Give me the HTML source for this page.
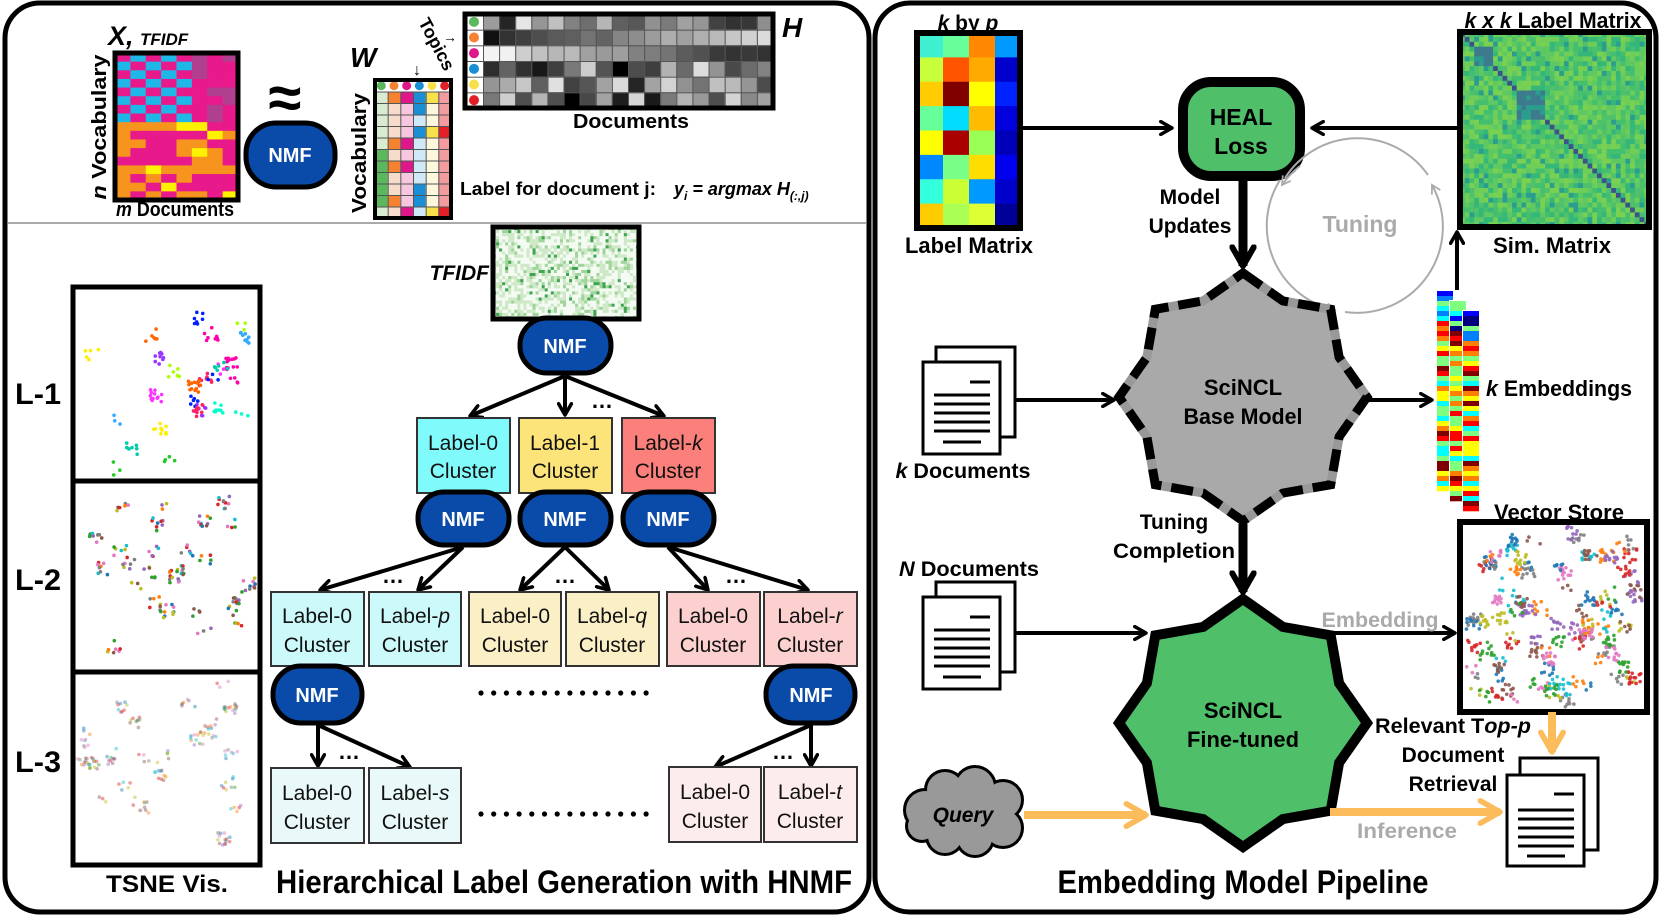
<!DOCTYPE html>
<html><head><meta charset="utf-8">
<style>
html,body{margin:0;padding:0;background:#fff;}
svg{display:block;}
text{font-family:"Liberation Sans",sans-serif;}
.b{font-weight:bold;}
.i{font-style:italic;}
.lab{font-size:21px;fill:#111;}
.nmf{font-size:20px;font-weight:bold;fill:#fff;}
</style></head>
<body>
<svg id="s" xmlns="http://www.w3.org/2000/svg" width="1661" height="917" viewBox="0 0 1661 917">
<defs>
<marker id="ak" viewBox="0 0 10 10" refX="8" refY="5" markerWidth="4" markerHeight="4" orient="auto" markerUnits="strokeWidth"><path d="M1,1 L8,5 L1,9" fill="none" stroke="#000" stroke-width="2.2" stroke-linecap="round" stroke-linejoin="round"/></marker>
<marker id="ak2" viewBox="0 0 10 10" refX="8" refY="5" markerWidth="3" markerHeight="3" orient="auto" markerUnits="strokeWidth"><path d="M1,1 L8,5 L1,9" fill="none" stroke="#000" stroke-width="2.2" stroke-linecap="round" stroke-linejoin="round"/></marker>
<marker id="ag" viewBox="0 0 10 10" refX="8" refY="5" markerWidth="6" markerHeight="6" orient="auto" markerUnits="strokeWidth"><path d="M1,1 L8,5 L1,9" fill="none" stroke="#aaa" stroke-width="1.5"/></marker>
<marker id="ao" viewBox="0 0 10 10" refX="8" refY="5" markerWidth="3.5" markerHeight="3.5" orient="auto" markerUnits="strokeWidth"><path d="M1,1 L8,5 L1,9" fill="none" stroke="#fcbc5c" stroke-width="2" stroke-linecap="round" stroke-linejoin="round"/></marker>
</defs>

<!-- panels -->
<rect x="5" y="3" width="864" height="909" rx="35" fill="#fff" stroke="#000" stroke-width="5"/>
<rect x="875" y="3" width="781" height="909" rx="35" fill="#fff" stroke="#000" stroke-width="5"/>
<line x1="8" y1="223" x2="866" y2="223" stroke="#aaa" stroke-width="2"/>

<!-- X matrix -->
<g id="Xm"><rect x="115" y="53" width="123" height="147" fill="#e8198b"/></g>
<rect x="115" y="53" width="123" height="147" fill="none" stroke="#000" stroke-width="5"/>
<text x="108" y="45" class="b i" font-size="27">X,</text>
<text x="140" y="45" class="b i" font-size="17">TFIDF</text>
<text transform="translate(106,127) rotate(-90)" text-anchor="middle" class="b" font-size="20" textLength="145" lengthAdjust="spacingAndGlyphs"><tspan class="i">n</tspan> Vocabulary</text>
<text x="175" y="216" text-anchor="middle" class="b" font-size="20" textLength="118" lengthAdjust="spacingAndGlyphs"><tspan class="i">m</tspan> Documents</text>
<text x="285" y="118" text-anchor="middle" class="b" font-size="60">≈</text>
<rect x="246" y="123" width="89" height="64" rx="30" fill="#0a4aa8" stroke="#000" stroke-width="5"/>
<text x="290" y="162" text-anchor="middle" class="nmf">NMF</text>

<!-- W matrix -->
<g id="Wm"><rect x="375" y="80" width="76" height="138" fill="#eee"/></g>
<rect x="375" y="80" width="76" height="138" fill="none" stroke="#000" stroke-width="4"/>
<text x="350" y="67" class="b i" font-size="28">W</text>
<text transform="translate(366,153) rotate(-90)" text-anchor="middle" class="b" font-size="20" textLength="120" lengthAdjust="spacingAndGlyphs">Vocabulary</text>
<text transform="translate(418,22) rotate(62)" class="b" font-size="18">Topics</text>
<text x="417" y="75" text-anchor="middle" font-size="16">↓</text>
<text x="450" y="42" text-anchor="middle" font-size="14">→</text>

<!-- H matrix -->
<g id="Hm"><rect x="465" y="14" width="308" height="94" fill="#666"/></g>
<rect x="465" y="14" width="308" height="94" fill="none" stroke="#000" stroke-width="5"/>
<text x="782" y="37" class="b i" font-size="28">H</text>
<text x="631" y="128" text-anchor="middle" class="b" font-size="20" textLength="116" lengthAdjust="spacingAndGlyphs">Documents</text>
<text x="460" y="195" class="b" font-size="18" textLength="196" lengthAdjust="spacingAndGlyphs">Label for document j:</text>
<text x="674" y="195" class="b i" font-size="18">y<tspan font-size="12" dy="5">i</tspan><tspan dy="-5"> = argmax H</tspan><tspan font-size="12" dy="5">(:,j)</tspan></text>

<!-- TSNE -->
<g id="ts"></g>
<rect x="73" y="287" width="187" height="194" fill="none" stroke="#000" stroke-width="5"/>
<rect x="73" y="481" width="187" height="191" fill="none" stroke="#000" stroke-width="5"/>
<rect x="73" y="672" width="187" height="193" fill="none" stroke="#000" stroke-width="5"/>
<text x="15" y="404" class="b" font-size="30" textLength="46" lengthAdjust="spacingAndGlyphs">L-1</text>
<text x="15" y="590" class="b" font-size="30" textLength="46" lengthAdjust="spacingAndGlyphs">L-2</text>
<text x="15" y="772" class="b" font-size="30" textLength="46" lengthAdjust="spacingAndGlyphs">L-3</text>
<text x="167" y="892" text-anchor="middle" class="b" font-size="24" textLength="122" lengthAdjust="spacingAndGlyphs">TSNE Vis.</text>

<!-- TFIDF tree -->
<g id="tf"><rect x="493" y="227" width="146" height="92" fill="#d8efd4"/></g>
<rect x="493" y="227" width="146" height="92" fill="none" stroke="#000" stroke-width="5"/>
<text x="489" y="280" text-anchor="end" class="b i" font-size="21">TFIDF</text>
<rect x="520" y="318" width="91" height="55" rx="27" fill="#0a4aa8" stroke="#000" stroke-width="5"/>
<text x="565" y="353" text-anchor="middle" class="nmf">NMF</text>
<g stroke="#000" stroke-width="4" fill="none">
<line x1="565" y1="376" x2="470" y2="416" marker-end="url(#ak)"/>
<line x1="565" y1="376" x2="565" y2="415" marker-end="url(#ak)"/>
<line x1="565" y1="376" x2="664" y2="416" marker-end="url(#ak)"/>
</g>
<text x="602" y="408" text-anchor="middle" class="b" font-size="22">…</text>

<g stroke="#333" stroke-width="2">
<rect x="417" y="418" width="93" height="75" fill="#80fafa"/>
<rect x="519" y="418" width="93" height="75" fill="#fde47a"/>
<rect x="622" y="418" width="93" height="75" fill="#fb7f7a"/>
</g>
<g class="lab" text-anchor="middle">
<text x="463" y="450" class="lab">Label-0</text><text x="463" y="478" class="lab">Cluster</text>
<text x="565" y="450" class="lab">Label-1</text><text x="565" y="478" class="lab">Cluster</text>
<text x="668" y="450" class="lab">Label-<tspan class="i">k</tspan></text><text x="668" y="478" class="lab">Cluster</text>
</g>
<g stroke="#000" stroke-width="5" fill="#0a4aa8">
<rect x="418" y="492" width="91" height="53" rx="26"/>
<rect x="520" y="492" width="91" height="53" rx="26"/>
<rect x="623" y="492" width="91" height="53" rx="26"/>
</g>
<text x="463" y="526" text-anchor="middle" class="nmf">NMF</text>
<text x="565" y="526" text-anchor="middle" class="nmf">NMF</text>
<text x="668" y="526" text-anchor="middle" class="nmf">NMF</text>

<g stroke="#000" stroke-width="4" fill="none">
<line x1="463" y1="547" x2="320" y2="590" marker-end="url(#ak)"/>
<line x1="463" y1="547" x2="418" y2="590" marker-end="url(#ak)"/>
<line x1="565" y1="547" x2="520" y2="590" marker-end="url(#ak)"/>
<line x1="565" y1="547" x2="609" y2="590" marker-end="url(#ak)"/>
<line x1="668" y1="547" x2="708" y2="590" marker-end="url(#ak)"/>
<line x1="668" y1="547" x2="808" y2="590" marker-end="url(#ak)"/>
</g>
<text x="393" y="583" text-anchor="middle" class="b" font-size="22">…</text>
<text x="565" y="583" text-anchor="middle" class="b" font-size="22">…</text>
<text x="736" y="583" text-anchor="middle" class="b" font-size="22">…</text>

<g stroke="#333" stroke-width="2">
<rect x="271" y="592" width="93" height="74" fill="#ccf9fa"/>
<rect x="369" y="592" width="92" height="74" fill="#ccf9fa"/>
<rect x="469" y="592" width="92" height="74" fill="#fbefc6"/>
<rect x="566" y="592" width="93" height="74" fill="#fbefc6"/>
<rect x="667" y="592" width="93" height="74" fill="#fdd0d0"/>
<rect x="764" y="592" width="93" height="74" fill="#fdd0d0"/>
</g>
<g text-anchor="middle">
<text x="317" y="623" class="lab">Label-0</text><text x="317" y="652" class="lab">Cluster</text>
<text x="415" y="623" class="lab">Label-<tspan class="i">p</tspan></text><text x="415" y="652" class="lab">Cluster</text>
<text x="515" y="623" class="lab">Label-0</text><text x="515" y="652" class="lab">Cluster</text>
<text x="612" y="623" class="lab">Label-<tspan class="i">q</tspan></text><text x="612" y="652" class="lab">Cluster</text>
<text x="713" y="623" class="lab">Label-0</text><text x="713" y="652" class="lab">Cluster</text>
<text x="810" y="623" class="lab">Label-<tspan class="i">r</tspan></text><text x="810" y="652" class="lab">Cluster</text>
</g>
<g stroke="#000" stroke-width="5" fill="#0a4aa8">
<rect x="273" y="666" width="89" height="57" rx="28"/>
<rect x="766" y="666" width="89" height="57" rx="28"/>
</g>
<text x="317" y="702" text-anchor="middle" class="nmf">NMF</text>
<text x="811" y="702" text-anchor="middle" class="nmf">NMF</text>
<g id="dots"></g>

<g stroke="#000" stroke-width="4" fill="none">
<line x1="318" y1="725" x2="318" y2="766" marker-end="url(#ak)"/>
<line x1="318" y1="725" x2="410" y2="767" marker-end="url(#ak)"/>
<line x1="811" y1="725" x2="715" y2="767" marker-end="url(#ak)"/>
<line x1="811" y1="725" x2="811" y2="766" marker-end="url(#ak)"/>
</g>
<text x="349" y="759" text-anchor="middle" class="b" font-size="22">…</text>
<text x="783" y="759" text-anchor="middle" class="b" font-size="22">…</text>
<g stroke="#333" stroke-width="2">
<rect x="271" y="768" width="93" height="75" fill="#e9f8f8"/>
<rect x="369" y="768" width="92" height="75" fill="#e9f8f8"/>
<rect x="669" y="767" width="92" height="75" fill="#fdecec"/>
<rect x="764" y="767" width="93" height="75" fill="#fdecec"/>
</g>
<g text-anchor="middle">
<text x="317" y="800" class="lab">Label-0</text><text x="317" y="829" class="lab">Cluster</text>
<text x="415" y="800" class="lab">Label-<tspan class="i">s</tspan></text><text x="415" y="829" class="lab">Cluster</text>
<text x="715" y="799" class="lab">Label-0</text><text x="715" y="828" class="lab">Cluster</text>
<text x="810" y="799" class="lab">Label-<tspan class="i">t</tspan></text><text x="810" y="828" class="lab">Cluster</text>
</g>
<text x="564" y="893" text-anchor="middle" class="b" font-size="32" textLength="576" lengthAdjust="spacingAndGlyphs">Hierarchical Label Generation with HNMF</text>

<!-- RIGHT PANEL -->
<g id="Lm"></g>
<rect x="917" y="33" width="103" height="195" fill="none" stroke="#000" stroke-width="6"/>
<text x="968" y="30" text-anchor="middle" class="b" font-size="21"><tspan class="i">k</tspan> by <tspan class="i">p</tspan></text>
<text x="969" y="253" text-anchor="middle" class="b" font-size="22" textLength="128" lengthAdjust="spacingAndGlyphs">Label Matrix</text>

<g stroke="#000" stroke-width="4" fill="none">
<line x1="1020" y1="128" x2="1172" y2="128" marker-end="url(#ak)"/>
<line x1="1460" y1="128" x2="1312" y2="128" marker-end="url(#ak)"/>
</g>
<rect x="1183" y="82" width="117" height="94" rx="28" fill="#4fbf6a" stroke="#000" stroke-width="10"/>
<text x="1241" y="125" text-anchor="middle" class="b" font-size="23">HEAL</text>
<text x="1241" y="154" text-anchor="middle" class="b" font-size="23">Loss</text>

<g id="Sm"><rect x="1460" y="32" width="189" height="195" fill="#5ec962"/></g>
<rect x="1460" y="32" width="189" height="195" fill="none" stroke="#000" stroke-width="6"/>
<text x="1553" y="28" text-anchor="middle" class="b" font-size="22" textLength="177" lengthAdjust="spacingAndGlyphs"><tspan class="i">k x k</tspan> Label Matrix</text>
<text x="1552" y="253" text-anchor="middle" class="b" font-size="22" textLength="118" lengthAdjust="spacingAndGlyphs">Sim. Matrix</text>

<text x="1190" y="204" text-anchor="middle" class="b" font-size="21">Model</text>
<text x="1190" y="233" text-anchor="middle" class="b" font-size="21">Updates</text>
<line x1="1243" y1="180" x2="1243" y2="266" stroke="#000" stroke-width="9" marker-end="url(#ak2)"/>

<!-- Tuning circle -->
<g fill="none" stroke="#aaa" stroke-width="2">
<path d="M1428,175 A86,86 0 0 0 1285,178" />
<path d="M1280,180 A86,86 0 0 0 1335,310" marker-end="url(#ag)"/>
<path d="M1345,312 A86,86 0 0 0 1432,185" marker-end="url(#ag)"/>
<path d="M1300,166 A86,86 0 0 0 1282,185" marker-end="url(#ag)"/>
</g>
<text x="1360" y="232" text-anchor="middle" class="b" font-size="23" fill="#aaa">Tuning</text>

<!-- Base star -->
<polygon points="1243,273 1282.8,300.9 1330.7,309.3 1339.1,357.2 1367,397 1339.1,436.8 1330.7,484.7 1282.8,493.1 1243,521 1203.2,493.1 1155.3,484.7 1146.9,436.8 1119,397 1146.9,357.2 1155.3,309.3 1203.2,300.9" fill="#a9a9a9" stroke="#999" stroke-width="9" stroke-linejoin="miter"/>
<polygon points="1243,273 1282.8,300.9 1330.7,309.3 1339.1,357.2 1367,397 1339.1,436.8 1330.7,484.7 1282.8,493.1 1243,521 1203.2,493.1 1155.3,484.7 1146.9,436.8 1119,397 1146.9,357.2 1155.3,309.3 1203.2,300.9" fill="none" stroke="#000" stroke-width="9" stroke-dasharray="22 10" stroke-linejoin="miter"/>
<text x="1243" y="395" text-anchor="middle" class="b" font-size="22">SciNCL</text>
<text x="1243" y="424" text-anchor="middle" class="b" font-size="22" textLength="119" lengthAdjust="spacingAndGlyphs">Base Model</text>

<!-- doc icons -->
<g id="doc1" transform="translate(923,345)">
<rect x="13" y="2" width="79" height="90" fill="#fff" stroke="#000" stroke-width="3"/>
<rect x="0" y="17" width="77" height="92" fill="#fff" stroke="#000" stroke-width="3"/>
<g stroke="#000" stroke-width="3"><line x1="47" y1="37" x2="67" y2="37"/><line x1="11" y1="50" x2="67" y2="50"/><line x1="11" y1="59" x2="67" y2="59"/><line x1="11" y1="68" x2="67" y2="68"/><line x1="11" y1="77" x2="67" y2="77"/><line x1="11" y1="86" x2="67" y2="86"/><line x1="20" y1="97" x2="58" y2="97"/></g>
</g>
<text x="963" y="478" text-anchor="middle" class="b" font-size="21" textLength="135" lengthAdjust="spacingAndGlyphs"><tspan class="i">k</tspan> Documents</text>
<line x1="1015" y1="400" x2="1114" y2="400" stroke="#000" stroke-width="4" marker-end="url(#ak)"/>
<line x1="1368" y1="400" x2="1432" y2="400" stroke="#000" stroke-width="4" marker-end="url(#ak)"/>
<g id="emb"></g>
<line x1="1457" y1="290" x2="1457" y2="232" stroke="#000" stroke-width="4" marker-end="url(#ak)"/>
<text x="1486" y="396" class="b" font-size="22" textLength="146" lengthAdjust="spacingAndGlyphs"><tspan class="i">k</tspan> Embeddings</text>

<text x="1174" y="529" text-anchor="middle" class="b" font-size="21">Tuning</text>
<text x="1174" y="558" text-anchor="middle" class="b" font-size="21" textLength="122" lengthAdjust="spacingAndGlyphs">Completion</text>
<line x1="1243" y1="524" x2="1243" y2="592" stroke="#000" stroke-width="9" marker-end="url(#ak2)"/>

<text x="969" y="576" text-anchor="middle" class="b" font-size="21" textLength="140" lengthAdjust="spacingAndGlyphs"><tspan class="i">N</tspan> Documents</text>
<use href="#doc1" transform="translate(0,235)"/>
<line x1="1015" y1="633" x2="1146" y2="633" stroke="#000" stroke-width="4" marker-end="url(#ak)"/>

<!-- green star -->
<polygon points="1243,599 1282.8,626.9 1330.7,635.3 1339.1,683.2 1367,723 1339.1,762.8 1330.7,810.7 1282.8,819.1 1243,847 1203.2,819.1 1155.3,810.7 1146.9,762.8 1119,723 1146.9,683.2 1155.3,635.3 1203.2,626.9" fill="#4fbf6a" stroke="#000" stroke-width="10" stroke-linejoin="miter"/>
<text x="1243" y="718" text-anchor="middle" class="b" font-size="22">SciNCL</text>
<text x="1243" y="747" text-anchor="middle" class="b" font-size="22" textLength="112" lengthAdjust="spacingAndGlyphs">Fine-tuned</text>

<line x1="1330" y1="633" x2="1455" y2="633" stroke="#000" stroke-width="4" marker-end="url(#ak)"/>
<text x="1380" y="627" text-anchor="middle" class="b" font-size="21" fill="#aaa" textLength="117" lengthAdjust="spacingAndGlyphs">Embedding</text>

<g id="vs"></g>
<rect x="1460" y="522" width="187" height="190" fill="none" stroke="#000" stroke-width="6"/>
<text x="1559" y="520" text-anchor="middle" class="b" font-size="22" textLength="130" lengthAdjust="spacingAndGlyphs">Vector Store</text>
<line x1="1552" y1="712" x2="1552" y2="752" stroke="#fcbc5c" stroke-width="8" marker-end="url(#ao)"/>

<g transform="translate(1507,758)">
<rect x="13" y="0" width="78" height="92" fill="#fff" stroke="#000" stroke-width="3"/>
<rect x="0" y="17" width="77" height="91" fill="#fff" stroke="#000" stroke-width="3"/>
<g stroke="#000" stroke-width="3"><line x1="47" y1="36" x2="67" y2="36"/><line x1="11" y1="52" x2="67" y2="52"/><line x1="11" y1="61" x2="67" y2="61"/><line x1="11" y1="70" x2="67" y2="70"/><line x1="11" y1="79" x2="67" y2="79"/><line x1="11" y1="88" x2="67" y2="88"/><line x1="20" y1="98" x2="58" y2="98"/></g>
</g>
<text x="1531" y="733" text-anchor="end" class="b" font-size="21" textLength="156" lengthAdjust="spacingAndGlyphs">Relevant T<tspan class="i">op-p</tspan></text>
<text x="1453" y="762" text-anchor="middle" class="b" font-size="21">Document</text>
<text x="1453" y="791" text-anchor="middle" class="b" font-size="21">Retrieval</text>

<!-- Query cloud -->
<g stroke="#000" stroke-width="6" fill="#999">
<circle cx="925" cy="810" r="19"/><circle cx="945" cy="790" r="18"/><circle cx="975" cy="787" r="19"/><circle cx="1003" cy="800" r="18"/><circle cx="1003" cy="828" r="18"/><circle cx="975" cy="838" r="17"/><circle cx="945" cy="836" r="17"/><circle cx="922" cy="826" r="14"/>
</g>
<g fill="#999">
<circle cx="925" cy="810" r="19"/><circle cx="945" cy="790" r="18"/><circle cx="975" cy="787" r="19"/><circle cx="1003" cy="800" r="18"/><circle cx="1003" cy="828" r="18"/><circle cx="975" cy="838" r="17"/><circle cx="945" cy="836" r="17"/><circle cx="922" cy="826" r="14"/><rect x="925" y="795" width="80" height="40"/>
</g>
<text x="963" y="822" text-anchor="middle" class="b i" font-size="21">Query</text>
<line x1="1024" y1="815" x2="1146" y2="815" stroke="#fcbc5c" stroke-width="8" marker-end="url(#ao)"/>
<line x1="1330" y1="812" x2="1500" y2="812" stroke="#fcbc5c" stroke-width="8" marker-end="url(#ao)"/>
<text x="1407" y="838" text-anchor="middle" class="b" font-size="21" fill="#aaa" textLength="100" lengthAdjust="spacingAndGlyphs">Inference</text>

<text x="1243" y="893" text-anchor="middle" class="b" font-size="32" textLength="371" lengthAdjust="spacingAndGlyphs">Embedding Model Pipeline</text>
</svg>

<script>
(function(){
var NS="http://www.w3.org/2000/svg";
var seed=7;function r(){seed=(seed*16807)%2147483647;return (seed-1)/2147483646;}
function R(g,x,y,w,h,f,o){var e=document.createElementNS(NS,"rect");e.setAttribute("x",x);e.setAttribute("y",y);e.setAttribute("width",w);e.setAttribute("height",h);e.setAttribute("fill",f);if(o!==undefined)e.setAttribute("opacity",o);g.appendChild(e);return e;}
function C(g,x,y,rad,f,o){var e=document.createElementNS(NS,"circle");e.setAttribute("cx",x);e.setAttribute("cy",y);e.setAttribute("r",rad);e.setAttribute("fill",f);if(o!==undefined)e.setAttribute("opacity",o);g.appendChild(e);}
function G(id){return document.getElementById(id);}
// X matrix
var g=G("Xm"),cw=123/8,rh=147/17;
for(var i=0;i<17;i++)for(var j=0;j<8;j++){var c;
 if(i<8){c=((i+j)%2==0)?"#e8198b":"#1fb6e8";if(j>=5)c=(r()<.5)?"#b0408f":"#e8198b";}
 else{var t=r();c=t<.45?"#e8198b":(t<.75?"#f7941d":"#fff200");if(j<2&&t>.6)c="#f7941d";}
 R(g,115+j*cw,53+i*rh,cw+.5,rh+.5,c);}
// W matrix
g=G("Wm");var wc=[["#5cb85c","#d7ecd0"],["#f58231","#f5dccb"],["#e0168b","#f6c7df"],["#1a8fd6","#cfe9f8"],["#f7e14a","#fdf7dc"],["#e41e26","#f29ca0"]];
cw=76/6;rh=138/12;
for(var j=0;j<6;j++){R(g,375+j*cw,80,cw,rh,"#fff");C(g,375+j*cw+cw/2,80+rh/2,4.5,wc[j][0]);
 for(var i=1;i<12;i++){R(g,375+j*cw,80+i*rh,cw,rh,r()<.35?wc[j][0]:wc[j][1]);}}
for(var i=1;i<12;i++)R(g,375,80+i*rh,76,1,"#555");
for(var j=1;j<6;j++)R(g,375+j*cw,80+rh,1,138-rh,"#555");
// H matrix
g=G("Hm");var hc=["#5cb85c","#f58231","#e0168b","#1a8fd6","#f7e14a","#e41e26"];
R(g,465,14,18,94,"#fff");rh=94/6;cw=290/18;
for(var i=0;i<6;i++){C(g,474,14+i*rh+rh/2,5,hc[i]);
 for(var j=0;j<18;j++){var v;if(i==2)v=240-j*12;else if(i==1)v=30+j*12;else v=Math.floor(r()*220);
 v=Math.max(0,Math.min(255,v+Math.floor(r()*30-15)));R(g,483+j*cw,14+i*rh,cw,rh,"rgb("+v+","+v+","+v+")");}}
for(var j=0;j<18;j++)R(g,483+j*cw,14,1,94,"#555");
for(var i=1;i<6;i++)R(g,465,14+i*rh,308,1,"#555");
// Label matrix
g=G("Lm");var L=[["#3ff0d0","#66ff99","#ff8800","#0099ff"],["#c8ff3a","#ff5500","#ffaa00","#0000cc"],["#ffcc00","#800000","#ffff00","#0022ff"],["#66ff99","#00ddff","#ffbb00","#0000dd"],["#ffff00","#aa0000","#99ff55","#0000bb"],["#0088ff","#77ff88","#ffdd00","#0000ee"],["#33ffdd","#ccff33","#0099ff","#0000cc"],["#ffcc00","#aaff55","#ddff33","#000099"]];
var ws=[26,26,26,25];
for(var i=0;i<8;i++){var x=917;for(var j=0;j<4;j++){R(g,x,33+i*195/8,ws[j]+.5,195/8+.5,L[i][j]);x+=ws[j];}}
// Sim matrix
g=G("Sm");var sc=["#5ec962","#4fc16b","#7ad151","#35b779","#6ece58","#44bf70"];var n=40,s=189/n,sh=195/n;
for(var i=0;i<n;i++)for(var j=0;j<n;j++){var c=sc[Math.floor(r()*sc.length)];
 if(r()<.06)c="#2a9d8f";if(Math.abs(i-j)<1)c="#3b528b";
 if((i>=12&&i<18&&j>=12&&j<18)||(i>=3&&i<7&&j>=3&&j<7))c=r()<.6?"#3e7a8e":"#2a9d8f";
 R(g,1460+j*s,32+i*sh,s+.3,sh+.3,c);}
// TFIDF
g=G("tf");for(var i=0;i<30;i++)for(var j=0;j<48;j++){var t=r();var c=t<.5?"#f4fbf2":(t<.8?"#cfe9c8":(t<.95?"#9fd49a":"#3fa552"));R(g,493+j*146/48,227+i*92/30,146/48+.2,92/30+.2,c);}
// embeddings
g=G("emb");var jet=["#00007f","#0000ff","#007fff","#00ffff","#7fff7f","#ffff00","#ff7f00","#ff0000","#7f0000"];
for(var k=0;k<3;k++){var x=1437+k*13,y=291+k*10,h=200;R(g,x-1,y-1,18,h+2,"#fff");
 for(var i=0;i<40;i++){var idx=i<6?Math.floor(r()*5):3+Math.floor(r()*6);R(g,x,y+i*h/40,16,h/40+.3,jet[idx]);}}
// dots row
g=G("dots");for(var k=0;k<14;k++){C(g,481+k*12.7,693,2.6,"#000");C(g,481+k*12.7,814,2.6,"#000");}
// tsne
g=G("ts");
function clusters(x0,y0,w,h,cols,op,nc,multi){for(var c=0;c<nc;c++){var cx=x0+8+r()*(w-16),cy=y0+8+r()*(h-16),cl=cols[c%cols.length],m=3+Math.floor(r()*10);
 for(var p=0;p<m;p++){var col=multi?cols[Math.floor(r()*cols.length)]:cl;C(g,cx+(r()-.5)*14,cy+(r()-.5)*14,1.8,col,op);}}}
var br=["#ff00aa","#0022ff","#22cc22","#ff2266","#ffee00","#9933ff","#33aaff","#ff6600","#00ccaa","#aaff00","#ff33ff","#00ffcc"];
var tab=["#1f77b4","#ff7f0e","#2ca02c","#d62728","#9467bd","#8c564b","#e377c2","#7f7f7f","#bcbd22","#17becf"];
clusters(76,290,181,188,br,1,26,false);
clusters(76,484,181,185,tab,1,26,true);
clusters(76,675,181,187,tab,.45,26,true);
g=G("vs");clusters(1463,525,181,184,tab,.9,60,false);clusters(1463,525,181,184,tab,.9,40,false);
})();
</script>
</body></html>
